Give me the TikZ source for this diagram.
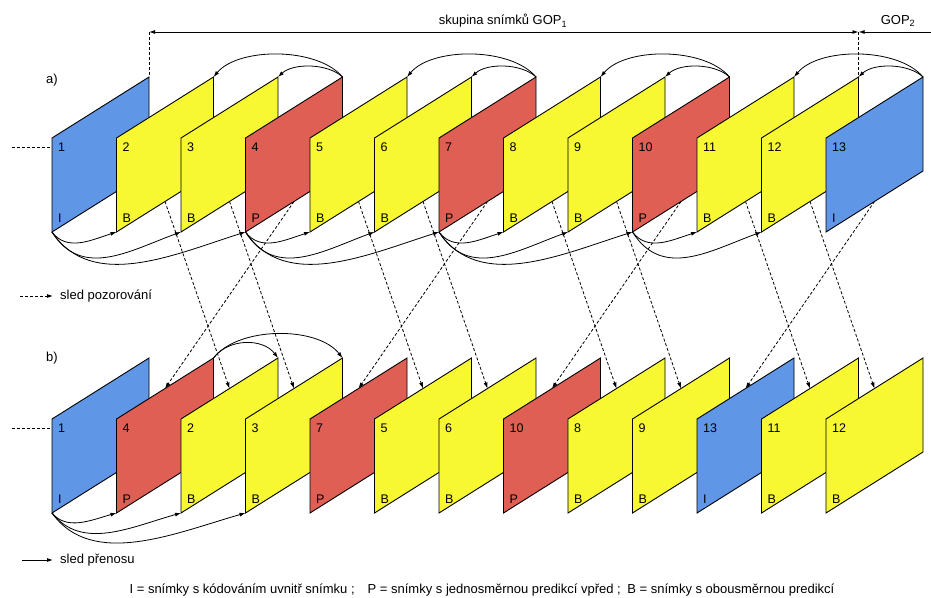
\documentclass[tikz,border=0pt]{standalone}
\usepackage{fontspec}
\setmainfont{Liberation Sans}
\usetikzlibrary{arrows.meta}
\definecolor{fI}{HTML}{5F96E6}
\definecolor{fP}{HTML}{E05F55}
\definecolor{fB}{HTML}{F8F832}
\begin{document}
\begin{tikzpicture}[x=1pt,y=-1pt,
  frame/.style={draw=black, line width=0.9pt, line join=miter},
  arc/.style={line width=0.8pt, -{Latex[length=6pt,width=4pt]}},
  dsh/.style={line width=0.8pt, dash pattern=on 3pt off 2pt, -{Latex[length=6pt,width=4pt]}},
  vdash/.style={line width=0.8pt, dash pattern=on 3pt off 2pt},
  gop/.style={line width=0.9pt},
  lbl/.style={font=\fontsize{13}{15}\selectfont, inner sep=0pt},
  flbl/.style={font=\fontsize{12.5}{14}\selectfont, inner sep=0pt, anchor=west},
]
\useasboundingbox (0,0) rectangle (931,597);

% ---------- row a ----------
\foreach \n/\t [count=\i from 0] in {1/I,2/B,3/B,4/P,5/B,6/B,7/P,8/B,9/B,10/P,11/B,12/B,13/I} {
  \pgfmathsetmacro\xl{52+64.5*\i}
  \pgfmathsetmacro\xr{\xl+97}
  \pgfmathsetmacro\xm{\xl+48.5}
  \coordinate (atl\n) at (\xl,138);
  \coordinate (abl\n) at (\xl,232);
  \coordinate (atr\n) at (\xr,77);
  \coordinate (abr\n) at (\xr,171);
  \coordinate (abm\n) at (\xm,201.5);
  \filldraw[frame, fill=f\t] (atl\n) -- (atr\n) -- (abr\n) -- (abl\n) -- cycle;
  \node[flbl] (na\n) at (\xl+6,147) {\n};
  \node[flbl] (ta\n) at (\xl+6,218) {\t};
}

% ---------- row b ----------
\foreach \n/\t [count=\i from 0] in {1/I,4/P,2/B,3/B,7/P,5/B,6/B,10/P,8/B,9/B,13/I,11/B,12/B} {
  \pgfmathsetmacro\xl{52+64.5*\i}
  \pgfmathsetmacro\xr{\xl+97}
  \pgfmathsetmacro\xm{\xl+48.5}
  \coordinate (btl\n) at (\xl,419);
  \coordinate (bbl\n) at (\xl,513);
  \coordinate (btr\n) at (\xr,358);
  \coordinate (bbr\n) at (\xr,452);
  \coordinate (btm\n) at (\xm,388.5);
  \filldraw[frame, fill=f\t] (btl\n) -- (btr\n) -- (bbr\n) -- (bbl\n) -- cycle;
  \node[flbl] (nb\n) at (\xl+6,428) {\n};
  \node[flbl] (tb\n) at (\xl+6,499) {\t};
}

% ---------- row a arcs ----------
\foreach \p/\x/\y in {4/2/3, 7/5/6, 10/8/9, 13/11/12} {
  \draw[arc] (atr\p) .. controls +(-25,-30) and +(25,-30) .. (atr\x);
  \draw[arc] (atr\p) .. controls +(-15,-14) and +(15,-14) .. (atr\y);
}
\foreach \p/\x/\y/\z in {1/2/3/4, 4/5/6/7, 7/8/9/10} {
  \draw[arc] (abl\p) .. controls +(15,20) and +(-25,8) .. (abl\x);
  \draw[arc] (abl\p) .. controls +(30,48) and +(-50,18) .. (abl\y);
  \draw[arc] (abl\p) .. controls +(40,60) and +(-70,22) .. (abl\z);
}
\draw[arc] (abl10) .. controls +(15,20) and +(-25,8) .. (abl11);
\draw[arc] (abl10) .. controls +(30,48) and +(-50,18) .. (abl12);

% ---------- row b arcs ----------
\draw[arc] (btr4) .. controls +(15,-20) and +(-15,-20) .. (btr2);
\draw[arc] (btr4) .. controls +(25,-32) and +(-25,-32) .. (btr3);
\draw[arc] (bbl1) .. controls +(15,18) and +(-25,7) .. (bbl4);
\draw[arc] (bbl1) .. controls +(30,38) and +(-50,14) .. (bbl2);
\draw[arc] (bbl1) .. controls +(40,56) and +(-70,20) .. (bbl3);

% ---------- reordering (dashed) ----------
\foreach \n in {2,...,13} {
  \draw[dsh] (abm\n) -- (btm\n);
}

% ---------- left dashed stubs ----------
\coordinate (la0) at (12,147);
\coordinate (la1) at (52,147);
\coordinate (lb0) at (12,428);
\coordinate (lb1) at (52,428);
\draw[vdash] (la0) -- (la1);
\draw[vdash] (lb0) -- (lb1);

% ---------- GOP line ----------
\coordinate (gl) at (149,32);
\coordinate (gm) at (858.5,32);
\coordinate (gr) at (931,32);
\draw[gop, {Latex[length=6pt,width=4pt]}-{Latex[length=6pt,width=4pt]}] (gl) -- (gm);
\draw[gop, {Latex[length=6pt,width=4pt]}-] (gm) -- (gr);
\draw[vdash] (gl) -- (atr1);
\draw[vdash] (gm) -- (atr12);
\node[lbl] (gop1) at (503,21) {skupina snímků GOP\textsubscript{1}};
\node[lbl] (gop2) at (898,21) {GOP\textsubscript{2}};

% ---------- labels ----------
\node[lbl] (la) at (52,80) {a)};
\node[lbl] (lb) at (52,358) {b)};

\coordinate (lg1a) at (20,296);
\coordinate (lg1b) at (53,296);
\draw[dsh] (lg1a) -- (lg1b);
\node[lbl, anchor=west] (lg1) at (60,296) {sled pozorování};

\coordinate (lg2a) at (22,560);
\coordinate (lg2b) at (53,560);
\draw[arc] (lg2a) -- (lg2b);
\node[lbl, anchor=west] (lg2) at (60,560) {sled přenosu};

\node[lbl] (legend) at (482,590) {I = snímky s kódováním uvnitř snímku ;\quad P = snímky s jednosměrnou predikcí vpřed ;\enspace B = snímky s obousměrnou predikcí};
\end{tikzpicture}
\end{document}
